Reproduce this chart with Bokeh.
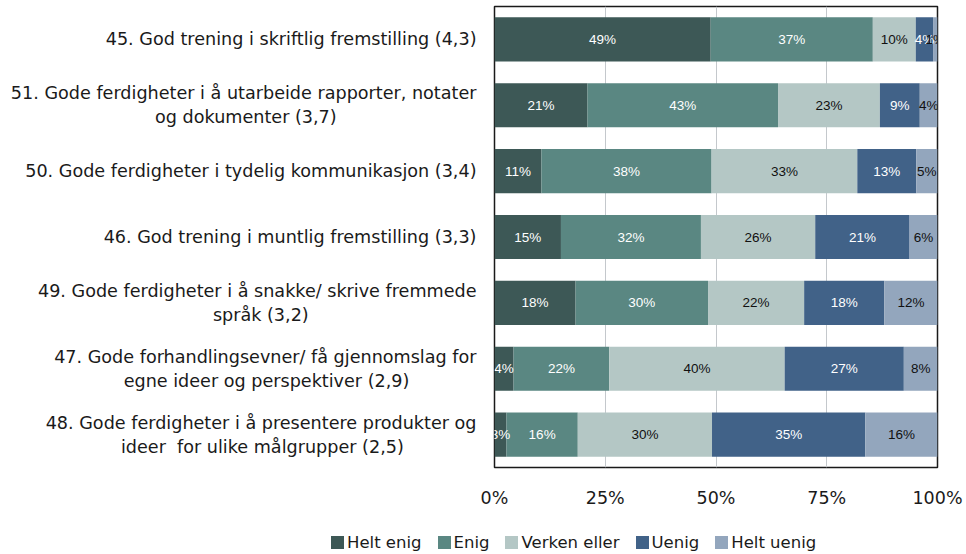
from bokeh.plotting import figure
from bokeh.layouts import column
from bokeh.models import ColumnDataSource, FactorRange, Range1d, FixedTicker, Div
from bokeh.core.properties import value
from bokeh.embed import file_html
from bokeh.resources import INLINE

NB = "\u00a0"
questions = [
    "45. God trening i skriftlig fremstilling (4,3)",
    "51. Gode ferdigheter i å utarbeide rapporter, notater\nog dokumenter (3,7)" + NB * 25,
    "50. Gode ferdigheter i tydelig kommunikasjon (3,4)",
    "46. God trening i muntlig fremstilling (3,3)",
    "49. Gode ferdigheter i å snakke/ skrive fremmede\nspråk (3,2)" + NB * 30,
    "47. Gode forhandlingsevner/ få gjennomslag for\negne ideer og perspektiver (2,9)" + NB * 12,
    "48. Gode ferdigheter i å presentere produkter og\nideer" + NB + " for ulike målgrupper (2,5)" + NB * 13,
]
series_names = ["Helt enig", "Enig", "Verken eller", "Uenig", "Helt uenig"]
helt_enig = [48.8, 21.0, 10.6, 15.0, 18.3, 4.3, 2.7]
enig = [36.6, 43.0, 38.4, 31.6, 29.9, 21.6, 16.1]
verken = [9.7, 23.0, 32.9, 25.8, 21.7, 39.6, 30.3]
uenig = [3.9, 9.0, 13.3, 21.3, 18.1, 26.9, 34.6]
helt_uenig = [1.0, 4.0, 4.8, 6.3, 12.0, 7.6, 16.3]
colors = ["#3d5856", "#5a8782", "#b4c7c5", "#416288", "#93a6bd"]
label_colors = ["#ffffff", "#ffffff", "#111111", "#ffffff", "#111111"]
x_ticks = [0, 25, 50, 75, 100]
x_tick_labels = ["0%", "25%", "50%", "75%", "100%"]

values = [helt_enig, enig, verken, uenig, helt_uenig]
keys = ["s0", "s1", "s2", "s3", "s4"]
data = {"q": questions}
for k, v in zip(keys, values):
    data[k] = v
source = ColumnDataSource(data)

p = figure(
    width=966, height=510,
    y_range=FactorRange(factors=list(reversed(questions)), range_padding=0),
    x_range=Range1d(0, 100),
    output_backend="svg", toolbar_location=None,
    min_border_left=494, min_border_right=29, min_border_top=6, min_border_bottom=41,
)

renderers = p.hbar_stack(keys, y="q", height=0.67, color=colors, line_color=None, source=source)

# segment labels
lx, ly, lt, lc = [], [], [], []
for i, q in enumerate(questions):
    cum = 0.0
    for j, v in enumerate(values):
        val = v[i]
        lx.append(cum + val / 2.0)
        ly.append(q)
        lt.append(f"{round(val):d}%")
        lc.append(label_colors[j])
        cum += val
lab_src = ColumnDataSource(dict(x=lx, y=ly, t=lt, c=lc))
p.text(x="x", y="y", text="t", text_color="c", source=lab_src,
       text_align="center", text_baseline="middle",
       text_font=value("Liberation Sans"), text_font_size=value("13.5px"))

# axes
p.xaxis.ticker = FixedTicker(ticks=x_ticks)
p.xaxis.major_label_overrides = {t: l for t, l in zip(x_ticks, x_tick_labels)}
p.xaxis.axis_line_color = None
p.xaxis.major_tick_line_color = None
p.xaxis.minor_tick_line_color = None
p.xaxis.major_label_standoff = 14
p.xaxis.major_label_text_font = "DejaVu Sans"
p.xaxis.major_label_text_font_size = "17.5px"
p.xaxis.major_label_text_color = "#1a1a1a"

p.yaxis.axis_line_color = None
p.yaxis.major_tick_line_color = None
p.yaxis.minor_tick_line_color = None
p.yaxis.major_label_standoff = 12
p.yaxis.major_label_text_font = "DejaVu Sans"
p.yaxis.major_label_text_font_size = "17.6px"
p.yaxis.major_label_text_color = "#1a1a1a"

p.xgrid.grid_line_color = "#c4c8cc"
p.xgrid.grid_line_width = 1
p.ygrid.grid_line_color = None
p.outline_line_color = "#1a1a1a"
p.outline_line_width = 1.5
p.background_fill_color = "white"
p.border_fill_color = "white"

# legend strip below the chart
items_html = "".join(
    f'<span style="display:inline-block;width:13px;height:13px;background:{c};'
    f'margin-right:3px;vertical-align:-1px"></span>'
    f'<span style="margin-right:16px">{n}</span>'
    for n, c in zip(series_names, colors)
)
legend_div = Div(
    text=f'<div style="padding-left:331px;padding-top:23px;font-family:\'DejaVu Sans\';'
         f'font-size:16.5px;line-height:20px;color:#1a1a1a;white-space:nowrap">{items_html}</div>',
    width=966, height=44, margin=0,
)

layout = column(p, legend_div, spacing=0)
open("out.html", "w").write(file_html(layout, INLINE))
